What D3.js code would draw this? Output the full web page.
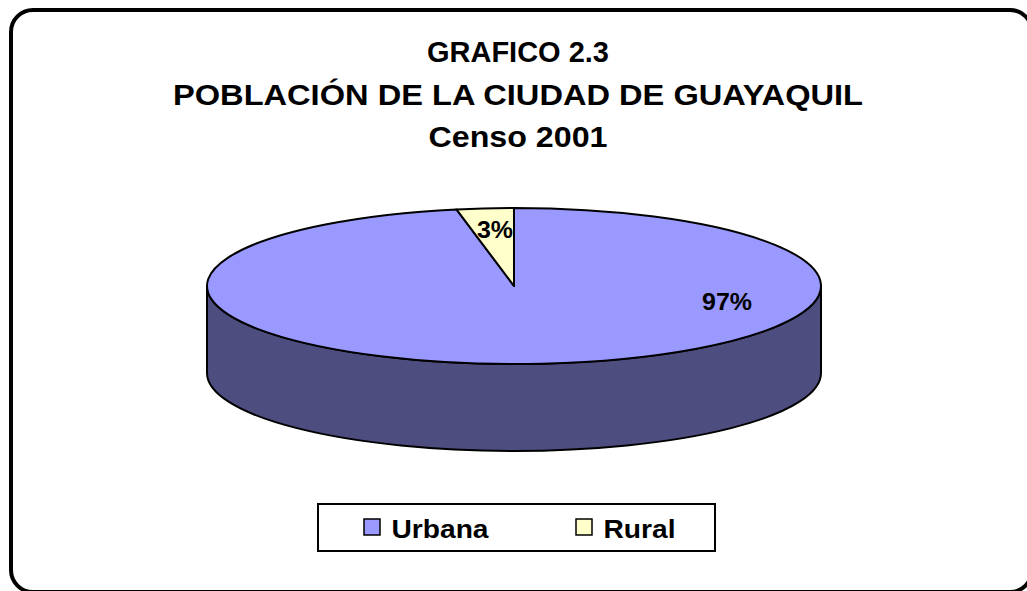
<!DOCTYPE html>
<html>
<head>
<meta charset="utf-8">
<script src="https://cdn.jsdelivr.net/npm/d3@7"></script>
<style>
  body { margin: 0; background: #fff; }
  text { font-family: "Liberation Sans", Arial, sans-serif; font-weight: bold; }
</style>
</head>
<body>
<main></main>
<script>
// Chart data
const categories = ['Urbana', 'Rural'];
const values = [97, 3];
const labels = ['97%', '3%'];
const titleLines = ['GRAFICO 2.3', 'POBLACIÓN DE LA CIUDAD DE GUAYAQUIL', 'Censo 2001'];

const width = 1027, height = 591;
const svg = d3.select('main').append('svg')
    .attr('width', width)
    .attr('height', height);

// Outer rounded frame
svg.append('rect')
    .attr('x', 11).attr('y', 10)
    .attr('width', 1021).attr('height', 582)
    .attr('rx', 22).attr('ry', 22)
    .attr('fill', '#fff')
    .attr('stroke', '#000')
    .attr('stroke-width', 4);

// Title (the original font is a bit stretched horizontally)
const titleWidths = [182, 690, 179];
svg.selectAll('text.title')
    .data(titleLines)
    .enter()
    .append('text')
    .attr('class', 'title')
    .attr('x', 518)
    .attr('y', (d, i) => 62 + i * 42.5)
    .attr('text-anchor', 'middle')
    .attr('font-size', 29)
    .attr('textLength', (d, i) => titleWidths[i])
    .attr('lengthAdjust', 'spacingAndGlyphs')
    .text(d => d);

// 3D pie geometry
const cx = 514, cy = 286, rx = 307, ry = 78, depth = 87;
const topColor = d3.scaleOrdinal().domain(categories).range(['#9999ff', '#ffffcc']);
const sideColor = d3.scaleOrdinal().domain(categories).range(['#4d4d80', '#80805f']);

const pie = d3.pie().sort(null).value(d => d.value);
const arcs = pie(categories.map((c, i) => ({ name: c, value: values[i], label: labels[i] })));

const pt = (a, dy = 0) => [cx + rx * Math.sin(a), cy - ry * Math.cos(a) + dy];

function topPath(d) {
    const p0 = pt(d.startAngle), p1 = pt(d.endAngle);
    const large = d.endAngle - d.startAngle > Math.PI ? 1 : 0;
    return `M${cx},${cy}L${p0}A${rx},${ry} 0 ${large} 1 ${p1}Z`;
}

// only the front half (pi/2 .. 3pi/2) of the wall is visible
function sidePath(d) {
    const a0 = Math.max(d.startAngle, Math.PI / 2);
    const a1 = Math.min(d.endAngle, Math.PI * 1.5);
    if (a1 <= a0) return null;
    const t0 = pt(a0), t1 = pt(a1), b0 = pt(a0, depth), b1 = pt(a1, depth);
    return `M${t0}A${rx},${ry} 0 0 1 ${t1}L${b1}A${rx},${ry} 0 0 0 ${b0}Z`;
}

svg.selectAll('path.side')
    .data(arcs.filter(d => sidePath(d)))
    .enter()
    .append('path')
    .attr('class', 'side')
    .attr('d', sidePath)
    .attr('fill', d => sideColor(d.data.name))
    .attr('stroke', '#000')
    .attr('stroke-width', 2)
    .attr('stroke-linejoin', 'round');

svg.selectAll('path.top')
    .data(arcs)
    .enter()
    .append('path')
    .attr('class', 'top')
    .attr('d', topPath)
    .attr('fill', d => topColor(d.data.name))
    .attr('stroke', '#000')
    .attr('stroke-width', 2)
    .attr('stroke-linejoin', 'round');

// Percentage labels
const labelPos = { Urbana: [727, 310, 50], Rural: [495, 238, 36] };
svg.selectAll('text.pct')
    .data(arcs)
    .enter()
    .append('text')
    .attr('class', 'pct')
    .attr('x', d => labelPos[d.data.name][0])
    .attr('y', d => labelPos[d.data.name][1])
    .attr('text-anchor', 'middle')
    .attr('font-size', 24)
    .attr('textLength', d => labelPos[d.data.name][2])
    .attr('lengthAdjust', 'spacingAndGlyphs')
    .text(d => d.data.label);

// Legend
const legend = svg.append('g');
legend.append('rect')
    .attr('x', 318).attr('y', 504)
    .attr('width', 397).attr('height', 47)
    .attr('fill', '#fff')
    .attr('stroke', '#000')
    .attr('stroke-width', 2);

const legendX = d3.scaleOrdinal().domain(categories).range([364, 576]);
const legendW = d3.scaleOrdinal().domain(categories).range([97, 72]);
const items = legend.selectAll('g.item')
    .data(categories)
    .enter()
    .append('g')
    .attr('class', 'item')
    .attr('transform', d => `translate(${legendX(d)},519)`);

items.append('rect')
    .attr('width', 16).attr('height', 16)
    .attr('fill', d => topColor(d))
    .attr('stroke', '#000')
    .attr('stroke-width', 1.5);

items.append('text')
    .attr('x', 27.5)
    .attr('y', 18.5)
    .attr('font-size', 25)
    .attr('textLength', d => legendW(d))
    .attr('lengthAdjust', 'spacingAndGlyphs')
    .text(d => d);
</script>
</body>
</html>
